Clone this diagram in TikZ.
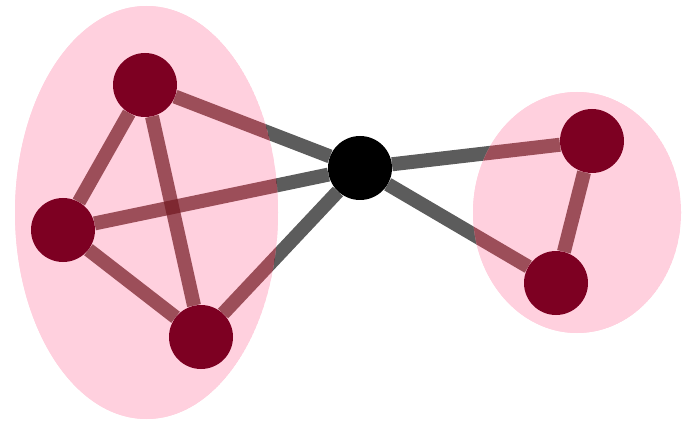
\documentclass[tikz,border=0pt]{standalone}
\usetikzlibrary{shapes.geometric}
\pgfdeclarelayer{bg}
\pgfdeclarelayer{bgtop}
\pgfsetlayers{bg,bgtop,main}
\definecolor{pinkfill}{RGB}{255,208,222}
\definecolor{edgegray}{RGB}{92,92,92}
\definecolor{edgein}{RGB}{114,24,33}
\definecolor{vred}{RGB}{125,0,34}
\tikzset{
  vert/.style={circle,fill=vred,minimum size=64pt,inner sep=0pt},
  hub/.style={circle,fill=black,minimum size=64pt,inner sep=0pt},
  link/.style={line width=14pt,draw=edgegray},
  linkin/.style={line width=14pt,draw=edgein,opacity=0.7},
  group/.style={ellipse,fill=pinkfill,inner sep=0pt}
}
\newcommand\drawalledges[1]{%
  \foreach \p/\q in {A/B,A/C,B/C,A/H,B/H,C/H,H/D,H/E,D/E}{\draw[#1] (\p) -- (\q);}}
\begin{document}
\begin{tikzpicture}[x=1pt,y=-1pt]
\useasboundingbox (0,0) rectangle (698,430);
\node[vert] (A) at (145,85) {};
\node[vert] (B) at (63,230) {};
\node[vert] (C) at (201,337) {};
\node[hub]  (H) at (360,168) {};
\node[vert] (D) at (592,141) {};
\node[vert] (E) at (556,283) {};
\begin{pgfonlayer}{bg}
  \node[group,minimum width=263pt,minimum height=413pt] (L) at (146.5,212.5) {};
  \node[group,minimum width=208pt,minimum height=241pt] (R) at (577,212.5) {};
  \drawalledges{link}
\end{pgfonlayer}
\begin{pgfonlayer}{bgtop}
  \begin{scope}
    \clip (L.center) ellipse [x radius=131.5pt,y radius=206.5pt];
    \fill[pinkfill] (L.center) ellipse [x radius=131.5pt,y radius=206.5pt];
    \drawalledges{linkin}
  \end{scope}
  \begin{scope}
    \clip (R.center) ellipse [x radius=104pt,y radius=120.5pt];
    \fill[pinkfill] (R.center) ellipse [x radius=104pt,y radius=120.5pt];
    \drawalledges{linkin}
  \end{scope}
\end{pgfonlayer}
\end{tikzpicture}
\end{document}
